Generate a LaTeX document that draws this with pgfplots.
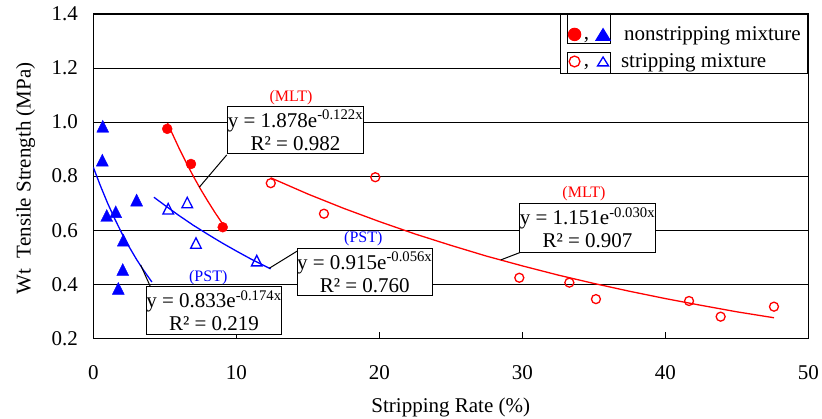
\documentclass[border=0pt]{standalone}
\usepackage{fontspec}
\setmainfont{Liberation Serif}
\usepackage{pgfplots}
\pgfplotsset{compat=1.18}
\begin{document}
\begin{tikzpicture}[x=1pt,y=1pt,font=\fontsize{21}{23}\selectfont]
\useasboundingbox (0,0) rectangle (822,419);
\begin{axis}[
  at={(93.3pt,80.7pt)}, anchor=south west,
  scale only axis, width=715pt, height=324.3pt,
  xmin=0, xmax=50, ymin=0.2, ymax=1.4,
  xtick={0,10,20,30,40,50},
  ytick={0.2,0.4,0.6,0.8,1.0,1.2,1.4},
  ymajorgrids, grid style={black, line width=1pt},
  axis line style={black, line width=1.3pt},
  tick align=inside, xtick pos=left, ytick pos=left,
  major tick length=6pt,
  xtick style={black, line width=1pt},
  ytick style={draw=none},
  /pgf/number format/assume math mode=true,
  ticklabel style={font=\fontsize{21}{21}\selectfont},
  yticklabel style={/pgf/number format/fixed, /pgf/number format/fixed zerofill, /pgf/number format/precision=1, xshift=-12pt},
  xticklabel style={yshift=-24pt},
  xlabel={Stripping Rate (\%)},
  xlabel style={at={(rel axis cs:0.5,-0.2303)}, anchor=base},
  ylabel={Wt\ \ Tensile Strength (MPa)},
  ylabel style={at={(rel axis cs:-0.0876,0.493)}, anchor=base, rotate=0},
  legend style={at={(rel axis cs:1,1)}, anchor=north east, draw=black, line width=1pt, fill=white,
    inner xsep=7pt, inner ysep=0pt, row sep=7.15pt, nodes={inner sep=0pt},
    font=\fontsize{21}{21}\selectfont,
    /tikz/every odd column/.append style={column sep=10pt}},
  legend cell align=left,
]
% legend entries
\addlegendimage{legend image code/.code={
  \path (-2pt,-9.45pt) rectangle (41pt,19.45pt);
  \fill[red] (5pt,0pt) circle (6.2pt);
  \node[anchor=base, inner sep=0pt, black] at (17pt,-4.85pt) {,};
  \fill[blue] (26.35pt,-5.85pt) -- (33.5pt,5.85pt) -- (40.65pt,-5.85pt) -- cycle;
}}
\addlegendentry{\hspace{3pt}nonstripping mixture}
\addlegendimage{legend image code/.code={
  \path (-2pt,-12pt) rectangle (41pt,9.45pt);
  \draw[red, line width=1.3pt] (5pt,0pt) circle (5.4pt);
  \node[anchor=base, inner sep=0pt, black] at (17pt,-4.85pt) {,};
  \draw[blue, line width=1.3pt] (28pt,-4.4pt) -- (33.5pt,4.5pt) -- (39pt,-4.4pt) -- cycle;
}}
\addlegendentry{stripping mixture}

% MLT nonstripping (filled circles)
\addplot[only marks, mark=*, mark size=5pt, color=red, forget plot] coordinates {
  (5.17,0.975) (6.83,0.845) (9.05,0.611)
};
% PST nonstripping (filled triangles)
\addplot[only marks, mark=triangle*, mark size=6.9pt, mark options={yscale=1.15}, color=blue, forget plot] coordinates {
  (0.66,0.977) (0.63,0.852) (0.94,0.647) (1.57,0.661) (3.03,0.704)
  (2.10,0.556) (2.06,0.447) (1.75,0.377)
};
% PST stripping (open triangles)
\addplot[only marks, mark=triangle, mark size=6.1pt, mark options={yscale=1.15}, color=blue, line width=1.3pt, forget plot] coordinates {
  (5.24,0.673) (6.57,0.696) (7.18,0.546) (11.43,0.481)
};
% MLT stripping (open circles)
\addplot[only marks, mark=o, mark size=4.5pt, color=red, line width=1.3pt, forget plot] coordinates {
  (12.41,0.774) (16.13,0.661) (19.72,0.796) (29.79,0.424) (33.29,0.406)
  (35.15,0.345) (41.66,0.338) (43.87,0.280) (47.60,0.317)
};

% trendlines
\addplot[red, line width=1.3pt, no marks, forget plot] coordinates {
  (5.2,0.996) (5.5,0.960) (6.0,0.903) (6.5,0.850) (7.0,0.799) (7.5,0.752)
  (8.0,0.708) (8.5,0.666) (9.15,0.615)
};
\addplot[blue, line width=1.3pt, no marks, forget plot] coordinates {
  (0,0.833) (0.5,0.764) (1,0.700) (1.5,0.642) (2,0.588) (2.5,0.539)
  (3,0.494) (3.5,0.453) (4.1,0.408)
};
\addplot[blue, line width=1.3pt, no marks, forget plot] coordinates {
  (4.24,0.722) (5,0.692) (6,0.654) (7,0.618) (8,0.585) (9,0.553)
  (10,0.523) (11,0.494) (12.4,0.457)
};
\addplot[red, line width=1.3pt, no marks, forget plot] coordinates {
  (12.4,0.794) (15,0.734) (17.5,0.681) (20,0.632) (22.5,0.586) (25,0.544)
  (27.5,0.504) (30,0.468) (32.5,0.434) (35,0.403) (37.5,0.374) (40,0.347)
  (42.5,0.322) (45,0.298) (47.6,0.276)
};

% leader lines
\draw[black, line width=1pt] (axis cs:9.33,0.8784) -- (axis cs:7.41,0.7589);
\draw[black, line width=1pt] (axis cs:4.01,0.3889) -- (axis cs:3.31,0.4714);
\draw[black, line width=1pt] (axis cs:14.50,0.5306) -- (axis cs:12.31,0.4592);
\draw[black, line width=1pt] (axis cs:30.0,0.5206) -- (axis cs:28.49,0.4899);

% equation boxes
\tikzset{eqbox/.style={draw=black, line width=1pt, fill=white, inner sep=0pt,
  align=center, font=\fontsize{21}{23}\selectfont}}
\node[eqbox, minimum width=135pt, minimum height=47.3pt] at (axis cs:14.14,0.9695)
  {y = 1.878e\textsuperscript{-0.122x}\\R² = 0.982};
\node[eqbox, minimum width=130pt, minimum height=48pt] at (axis cs:8.44,0.3012)
  {y = 0.833e\textsuperscript{-0.174x}\\R² = 0.219};
\node[eqbox, minimum width=129.3pt, minimum height=47.3pt] at (axis cs:18.98,0.4442)
  {y = 0.915e\textsuperscript{-0.056x}\\R² = 0.760};
\node[eqbox, minimum width=130.4pt, minimum height=49.4pt] at (axis cs:34.56,0.6083)
  {y = 1.151e\textsuperscript{-0.030x}\\R² = 0.907};

% labels
\tikzset{lab/.style={inner sep=0pt, font=\fontsize{16}{16}\selectfont}}
\node[lab, red] at (axis cs:13.83,1.089) {(MLT)};
\node[lab, blue] at (axis cs:8.04,0.426) {(PST)};
\node[lab, blue] at (axis cs:18.88,0.5676) {(PST)};
\node[lab, red] at (axis cs:34.31,0.734) {(MLT)};
\end{axis}
\end{tikzpicture}
\end{document}
